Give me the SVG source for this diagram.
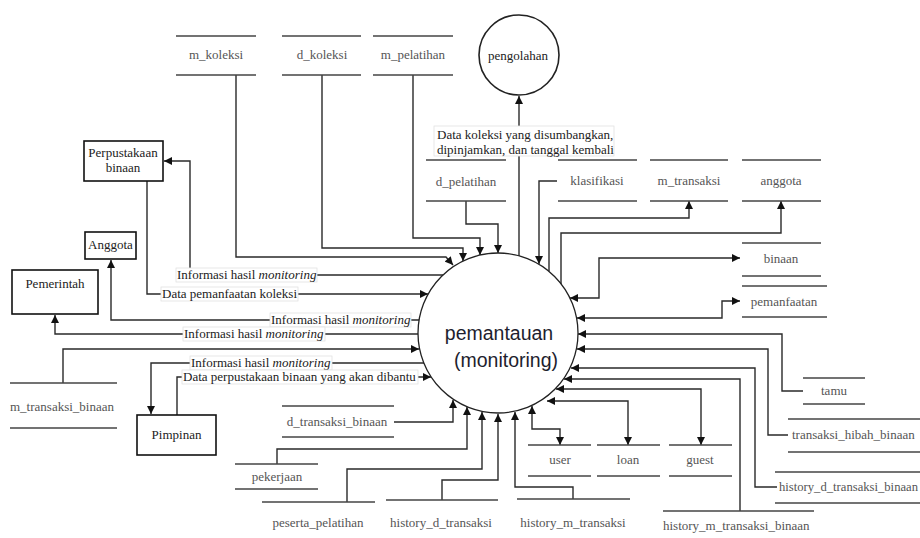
<svg xmlns="http://www.w3.org/2000/svg" width="920" height="538" viewBox="0 0 920 538">
<defs>
<marker id="arr" viewBox="0 0 10 10" refX="10" refY="5" markerWidth="9" markerHeight="8" markerUnits="userSpaceOnUse" orient="auto-start-reverse">
<path d="M0,0 L10,5 L0,10 z" fill="#111"/>
</marker>
<style>
.c{fill:none;stroke:#2a2a2a;stroke-width:1.4}
.ds line{stroke:#444;stroke-width:1.5}
.sf{font-family:'Liberation Serif','DejaVu Serif','Times New Roman',serif}
.st{font-size:13px;fill:#555}
.ent rect{fill:#fff;stroke:#111;stroke-width:1.6}
.et{font-size:13px;fill:#222;text-anchor:middle}
.lb rect{fill:#fff;stroke:#e2e2e2;stroke-width:0.8}
.lt{font-size:13px;fill:#222}
.mid{text-anchor:middle}
</style>
</defs>
<rect width="920" height="538" fill="#fff"/>

<g id="connectors">
<path class="c" d="M519,256 V96" marker-end="url(#arr)"/>
<path class="c" d="M236,75 V257 H446 L453,265" marker-end="url(#arr)"/>
<path class="c" d="M322,75 V248 H463 V261" marker-end="url(#arr)"/>
<path class="c" d="M413,75 V238 H480 V255" marker-end="url(#arr)"/>
<path class="c" d="M466,201 V224 H498 V253" marker-end="url(#arr)"/>
<path class="c" d="M557,181 H539 V264" marker-end="url(#arr)"/>
<path class="c" d="M549,271 V218 H689 V201" marker-end="url(#arr)"/>
<path class="c" d="M561,284 V233 H781 V201" marker-end="url(#arr)"/>
<path class="c" d="M570,298 H599 V258 H740" marker-start="url(#arr)" marker-end="url(#arr)"/>
<path class="c" d="M577,318 H722 V301 H740" marker-start="url(#arr)" marker-end="url(#arr)"/>
<path class="c" d="M803,391 H782 V334 H578" marker-end="url(#arr)"/>
<path class="c" d="M788,435 H768 V349 H577" marker-end="url(#arr)"/>
<path class="c" d="M777,487 H755 V368 H571" marker-end="url(#arr)"/>
<path class="c" d="M740,511 V379 H564" marker-end="url(#arr)"/>
<path class="c" d="M556,389 H701 V445" marker-start="url(#arr)" marker-end="url(#arr)"/>
<path class="c" d="M547,401 H628 V445" marker-start="url(#arr)" marker-end="url(#arr)"/>
<path class="c" d="M532,406 V429 H560 V445" marker-start="url(#arr)" marker-end="url(#arr)"/>
<path class="c" d="M573,499 V487 H515 V412" marker-end="url(#arr)"/>
<path class="c" d="M442,500 V480 H498 V414" marker-end="url(#arr)"/>
<path class="c" d="M347,502 V469 H482 V412" marker-end="url(#arr)"/>
<path class="c" d="M277,464 V449 H467 V407" marker-end="url(#arr)"/>
<path class="c" d="M394,422 H453 V400" marker-end="url(#arr)"/>
<path class="c" d="M443,275 H190 V161 H164" marker-end="url(#arr)"/>
<path class="c" d="M147,181 V294 H428" marker-end="url(#arr)"/>
<path class="c" d="M419,320 H111 V260" marker-end="url(#arr)"/>
<path class="c" d="M418,334 H55 V315" marker-end="url(#arr)"/>
<path class="c" d="M63,383 V349 H419" marker-end="url(#arr)"/>
<path class="c" d="M424,363 H151 V414" marker-end="url(#arr)"/>
<path class="c" d="M177,415 V377 H431" marker-end="url(#arr)"/>
</g>

<g id="labels">
<g class="lb"><rect x="434" y="126" width="180" height="30"/>
<text class="lt sf" x="437" y="139">Data koleksi yang disumbangkan,</text>
<text class="lt sf" x="437" y="154">dipinjamkan, dan tanggal kembali</text></g>
<g class="lb"><rect x="176" y="268" width="141" height="14"/>
<text class="lt sf" x="177" y="279">Informasi hasil <tspan font-style="italic">monitoring</tspan></text></g>
<g class="lb"><rect x="161" y="287" width="137" height="14"/>
<text class="lt sf" x="162" y="298">Data pemanfaatan koleksi</text></g>
<g class="lb"><rect x="270" y="313" width="141" height="14"/>
<text class="lt sf" x="271" y="324">Informasi hasil <tspan font-style="italic">monitoring</tspan></text></g>
<g class="lb"><rect x="183" y="327" width="142" height="14"/>
<text class="lt sf" x="184" y="338">Informasi hasil <tspan font-style="italic">monitoring</tspan></text></g>
<g class="lb"><rect x="190" y="356" width="142" height="14"/>
<text class="lt sf" x="191" y="367">Informasi hasil <tspan font-style="italic">monitoring</tspan></text></g>
<g class="lb"><rect x="182" y="370" width="236" height="14"/>
<text class="lt sf" x="183" y="381">Data perpustakaan binaan yang akan dibantu</text></g>
</g>

<g id="pemantauan">
<circle cx="498" cy="333" r="80" fill="#fff" stroke="#222" stroke-width="1.3"/>
<text x="499" y="340" font-family="'Liberation Sans', Arial, sans-serif" font-size="19.5" fill="#1e1e2e" text-anchor="middle">pemantauan</text>
<text x="506" y="367" font-family="'Liberation Sans', Arial, sans-serif" font-size="19.5" fill="#1e1e2e" text-anchor="middle">(monitoring)</text>
</g>

<g id="pengolahan">
<circle cx="519" cy="55" r="40" fill="#fff" stroke="#222" stroke-width="1.6"/>
<text class="et sf" x="518" y="60">pengolahan</text>
</g>

<g id="perpustakaan_binaan" class="ent"><rect x="84" y="141" width="79" height="40"/>
<text class="et sf" x="123" y="157">Perpustakaan</text><text class="et sf" x="123" y="172">binaan</text></g>
<g id="anggota_ent" class="ent"><rect x="85" y="232" width="51" height="27"/>
<text class="et sf" x="110.5" y="249">Anggota</text></g>
<g id="pemerintah" class="ent"><rect x="12" y="270" width="86" height="44"/>
<text class="et sf" x="55" y="288">Pemerintah</text></g>
<g id="pimpinan" class="ent"><rect x="137" y="415" width="79" height="40"/>
<text class="et sf" x="176.5" y="439">Pimpinan</text></g>

<g id="m_koleksi" class="ds"><line x1="176" y1="36" x2="256" y2="36"/><line x1="176" y1="75" x2="256" y2="75"/>
<text class="st sf mid" x="216" y="59">m_koleksi</text></g>
<g id="d_koleksi" class="ds"><line x1="282" y1="36" x2="361" y2="36"/><line x1="282" y1="75" x2="361" y2="75"/>
<text class="st sf mid" x="322" y="59">d_koleksi</text></g>
<g id="m_pelatihan" class="ds"><line x1="373" y1="36" x2="453" y2="36"/><line x1="373" y1="75" x2="453" y2="75"/>
<text class="st sf mid" x="413" y="59">m_pelatihan</text></g>
<g id="d_pelatihan" class="ds"><line x1="426" y1="160" x2="506" y2="160"/><line x1="426" y1="201" x2="506" y2="201"/>
<text class="st sf mid" x="466" y="186">d_pelatihan</text></g>
<g id="klasifikasi" class="ds"><line x1="558" y1="160" x2="637" y2="160"/><line x1="558" y1="201" x2="637" y2="201"/>
<text class="st sf mid" x="597" y="185">klasifikasi</text></g>
<g id="m_transaksi" class="ds"><line x1="650" y1="160" x2="728" y2="160"/><line x1="650" y1="201" x2="728" y2="201"/>
<text class="st sf mid" x="689" y="185">m_transaksi</text></g>
<g id="anggota" class="ds"><line x1="742" y1="160" x2="821" y2="160"/><line x1="742" y1="201" x2="821" y2="201"/>
<text class="st sf mid" x="781" y="185">anggota</text></g>
<g id="binaan" class="ds"><line x1="742" y1="243" x2="821" y2="243"/><line x1="742" y1="276" x2="821" y2="276"/>
<text class="st sf mid" x="781" y="263">binaan</text></g>
<g id="pemanfaatan" class="ds"><line x1="742" y1="286" x2="827" y2="286"/><line x1="742" y1="317" x2="827" y2="317"/>
<text class="st sf mid" x="784" y="306">pemanfaatan</text></g>
<g id="tamu" class="ds"><line x1="803" y1="378" x2="865" y2="378"/><line x1="803" y1="404" x2="865" y2="404"/>
<text class="st sf mid" x="834" y="395">tamu</text></g>
<g id="transaksi_hibah_binaan" class="ds"><line x1="788" y1="419" x2="920" y2="419"/><line x1="788" y1="452" x2="920" y2="452"/>
<text class="st sf" x="792" y="439">transaksi_hibah_binaan</text></g>
<g id="history_d_transaksi_binaan" class="ds"><line x1="775" y1="472" x2="920" y2="472"/><line x1="775" y1="503" x2="920" y2="503"/>
<text class="st sf" x="779" y="491" textLength="139" lengthAdjust="spacingAndGlyphs">history_d_transaksi_binaan</text></g>
<g id="history_m_transaksi_binaan" class="ds"><line x1="663" y1="511" x2="814" y2="511"/>
<text class="st sf" x="663" y="530">history_m_transaksi_binaan</text></g>
<g id="guest" class="ds"><line x1="669" y1="445" x2="732" y2="445"/><line x1="669" y1="476" x2="732" y2="476"/>
<text class="st sf mid" x="700" y="464">guest</text></g>
<g id="loan" class="ds"><line x1="597" y1="445" x2="660" y2="445"/><line x1="597" y1="476" x2="660" y2="476"/>
<text class="st sf mid" x="628" y="464">loan</text></g>
<g id="user" class="ds"><line x1="528" y1="445" x2="591" y2="445"/><line x1="528" y1="476" x2="591" y2="476"/>
<text class="st sf mid" x="560" y="464">user</text></g>
<g id="history_m_transaksi" class="ds"><line x1="517" y1="499" x2="630" y2="499"/>
<text class="st sf mid" x="573" y="527">history_m_transaksi</text></g>
<g id="history_d_transaksi" class="ds"><line x1="386" y1="500" x2="498" y2="500"/>
<text class="st sf mid" x="441" y="527">history_d_transaksi</text></g>
<g id="peserta_pelatihan" class="ds"><line x1="262" y1="502" x2="375" y2="502"/>
<text class="st sf mid" x="318" y="527">peserta_pelatihan</text></g>
<g id="pekerjaan" class="ds"><line x1="235" y1="464" x2="318" y2="464"/><line x1="235" y1="489" x2="318" y2="489"/>
<text class="st sf mid" x="277" y="481">pekerjaan</text></g>
<g id="d_transaksi_binaan" class="ds"><line x1="282" y1="406" x2="394" y2="406"/><line x1="282" y1="437" x2="394" y2="437"/>
<text class="st sf mid" x="337" y="426">d_transaksi_binaan</text></g>
<g id="m_transaksi_binaan" class="ds"><line x1="10" y1="383" x2="117" y2="383"/><line x1="10" y1="428" x2="117" y2="428"/>
<text class="st sf" x="10" y="411">m_transaksi_binaan</text></g>
</svg>
